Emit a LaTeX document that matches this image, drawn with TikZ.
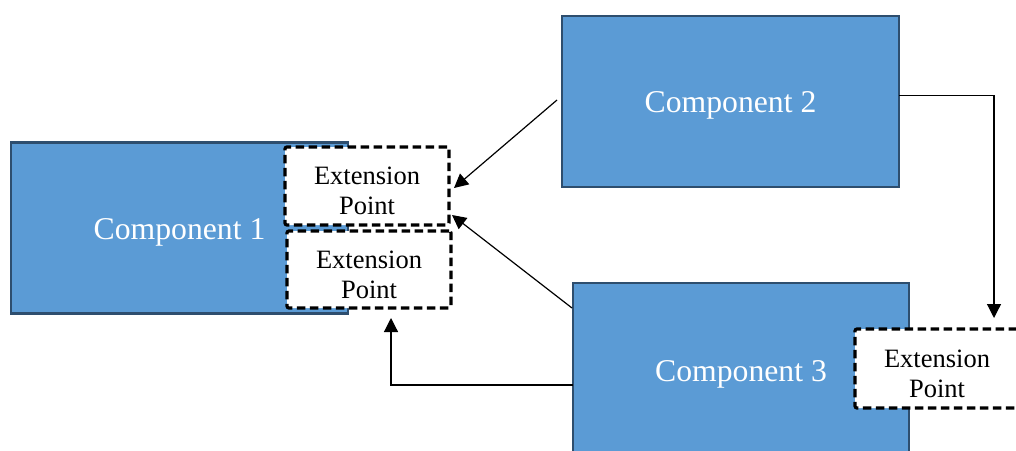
\documentclass[tikz,border=0pt]{standalone}
\usepackage{fontspec}
\setmainfont{Liberation Serif}
\usetikzlibrary{arrows.meta,calc}
\definecolor{compfill}{HTML}{5B9BD5}
\definecolor{compline}{HTML}{2E4E6E}
\begin{document}
\begin{tikzpicture}[x=1pt,y=-1pt,
  component/.style={draw=compline, line width=2.5pt, fill=compfill, text=white,
    minimum width=337pt, minimum height=171pt, inner sep=0pt, outer sep=0pt,
    text height=22.6pt, text depth=0pt,
    font=\fontsize{31.7}{36}\selectfont},
  extpoint/.style={draw=black, fill=white, line width=3.2pt,
    dash pattern=on 8.5pt off 4.5pt, rounded corners=2pt,
    minimum width=164pt, minimum height=78pt, inner sep=0pt, outer sep=0pt,
    text height=57pt, text depth=0pt,
    align=center, font=\fontsize{26.5}{30}\selectfont},
  link/.style={draw=black, line width=1.2pt, -{Triangle[length=14pt,width=14pt]}}]
\useasboundingbox (0,0) rectangle (1016,450);
\clip (0,0) rectangle (1016,450);

% components
\node[component] (c1) at (179.5,228) {Component 1};
\node[component] (c2) at (730.5,101.5) {Component 2};
\node[component, minimum width=336pt, minimum height=174pt] (c3) at (741,370) {Component 3};

% extension points
\node[extpoint] (ext1) at (367,186) {Extension\\Point};
\node[extpoint, minimum height=77pt] (ext2) at (369,269.5) {Extension\\Point};
\node[extpoint, minimum height=79pt] (ext3) at (937,368.5) {Extension\\Point};

% connector end points
\coordinate (a1s) at ($(c2.west)+(-5,-1.5)$);
\coordinate (a1e) at ($(ext1.east)+(5,2)$);
\coordinate (a2s) at ($(c3.north west)+(-1,25)$);
\coordinate (a2e) at ($(ext1.south east)+(3,-10)$);
\coordinate (a3s) at ($(c3.north west)+(0,102)$);
\coordinate (a3e) at ($(ext2.south)+(22,10)$);
\coordinate (a4s) at ($(c2.east)+(0,-6)$);
\coordinate (a4e) at ($(ext3.north)+(57,-11)$);

% connectors
\draw[link] (a1s) -- (a1e);
\draw[link] (a2s) -- (a2e);
\draw[link] (a3s) -| (a3e);
\draw[link] (a4s) -| (a4e);
\end{tikzpicture}
\end{document}
